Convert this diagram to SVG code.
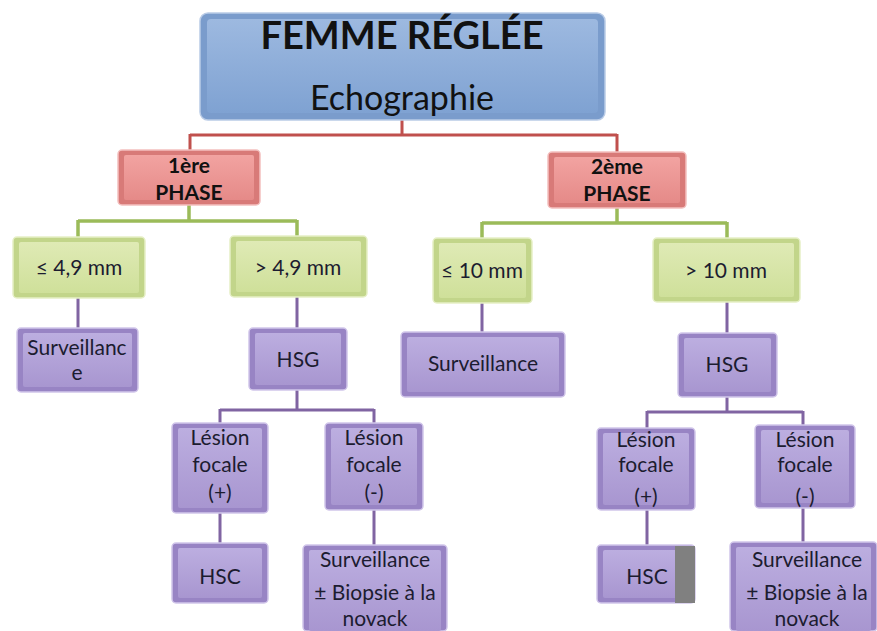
<svg xmlns="http://www.w3.org/2000/svg" width="877" height="631" viewBox="0 0 877 631">
<defs>
<linearGradient id="gBlue" x1="0" y1="0" x2="0" y2="1"><stop offset="0" stop-color="#9db9e0"/><stop offset="1" stop-color="#7fa2d2"/></linearGradient>
<linearGradient id="gRed" x1="0" y1="0" x2="0" y2="1"><stop offset="0" stop-color="#f2a3a1"/><stop offset="1" stop-color="#e58a88"/></linearGradient>
<linearGradient id="gGreen" x1="0" y1="0" x2="0" y2="1"><stop offset="0" stop-color="#dfeab5"/><stop offset="1" stop-color="#cfe09a"/></linearGradient>
<linearGradient id="gPurple" x1="0" y1="0" x2="0" y2="1"><stop offset="0" stop-color="#bcaee0"/><stop offset="1" stop-color="#a896d0"/></linearGradient>
</defs>
<style>
text{font-family:Lato,"Liberation Sans",sans-serif;text-anchor:middle;fill:#1c1c30}
.blue{fill:#7a9ccc;stroke:#b9cbe6;stroke-width:1.5}
.blueIn{fill:url(#gBlue)}
.red{fill:#d87a78;stroke:#f3c0bf;stroke-width:1.5}
.redIn{fill:url(#gRed)}
.green{fill:#c2d58a;stroke:#e6efc6;stroke-width:1.5}
.greenIn{fill:url(#gGreen)}
.purple{fill:#9884c4;stroke:#d1c6ea;stroke-width:1.5}
.purpleIn{fill:url(#gPurple)}
.cr{stroke:#c0504d;stroke-width:3;fill:none}
.cg{stroke:#9bbb59;stroke-width:3.5;fill:none}
.cp{stroke:#8064a2;stroke-width:3;fill:none}
.t1{font-size:38px;font-weight:bold;fill:#111}
.t2{font-size:34px;fill:#111}
.ph{font-size:21px;font-weight:bold;fill:#111}
.gt{font-size:21px}
.pt{font-size:21px}
</style>
<g id="connectors">
<path class="cr" d="M402,120 V135 M190,135 H617 M190,134 V150 M617,134 V152"/>
<path class="cg" d="M189,205 V221 M78,221 H297 M78,220 V237 M297,220 V236 M617,208 V223 M482,223 H727 M482,222 V238 M727,222 V238"/>
<path class="cp" d="M78,298 V328 M297,297 V328 M482,303 V332 M727,302 V333"/>
<path class="cp" d="M297,390 V410 M220,410 H374 M220,409 V423 M374,409 V423 M727,397 V412 M647,412 H803 M647,411 V428 M803,411 V425"/>
<path class="cp" d="M220,513 V543 M374,510 V545 M647,510 V545 M803,508 V542"/>
</g>
<g id="root">
<rect class="blue" x="200" y="13" width="405" height="107" rx="8"/>
<rect class="blueIn" x="207" y="19" width="391" height="94" rx="4"/>
<text class="t1" x="402" y="49">FEMME RÉGLÉE</text>
<text class="t2" x="402" y="110">Echographie</text>
</g>
<g id="phase1">
<rect class="red" x="118" y="150" width="142" height="55" rx="4"/>
<rect class="redIn" x="124" y="155" width="130" height="45" rx="2"/>
<text class="ph" x="189" y="173">1ère</text>
<text class="ph" x="189" y="200">PHASE</text>
</g>
<g id="phase2">
<rect class="red" x="548" y="152" width="138" height="56" rx="4"/>
<rect class="redIn" x="554" y="157" width="126" height="46" rx="2"/>
<text class="ph" x="617" y="174">2ème</text>
<text class="ph" x="617" y="201">PHASE</text>
</g>
<g id="le49">
<rect class="green" x="13" y="237" width="132" height="61" rx="4"/>
<rect class="greenIn" x="19" y="242" width="120" height="51" rx="2"/>
<text class="gt" x="79" y="275">≤ 4,9 mm</text>
</g>
<g id="gt49">
<rect class="green" x="230" y="236" width="137" height="61" rx="4"/>
<rect class="greenIn" x="236" y="241" width="125" height="51" rx="2"/>
<text class="gt" x="298" y="275">&gt; 4,9 mm</text>
</g>
<g id="le10">
<rect class="green" x="433" y="238" width="99" height="65" rx="4"/>
<rect class="greenIn" x="439" y="243" width="87" height="55" rx="2"/>
<text class="gt" x="482" y="278">≤ 10 mm</text>
</g>
<g id="gt10">
<rect class="green" x="653" y="238" width="147" height="64" rx="4"/>
<rect class="greenIn" x="659" y="243" width="135" height="54" rx="2"/>
<text class="gt" x="726" y="278">&gt; 10 mm</text>
</g>
<g id="surv1">
<rect class="purple" x="17" y="328" width="121" height="64" rx="4"/>
<rect class="purpleIn" x="23" y="333" width="109" height="54" rx="2"/>
<text class="pt" x="77" y="355">Surveillanc</text>
<text class="pt" x="77" y="380">e</text>
</g>
<g id="hsg1">
<rect class="purple" x="249" y="328" width="98" height="62" rx="4"/>
<rect class="purpleIn" x="255" y="333" width="86" height="52" rx="2"/>
<text class="pt" x="298" y="367">HSG</text>
</g>
<g id="surv2">
<rect class="purple" x="401" y="332" width="164" height="65" rx="4"/>
<rect class="purpleIn" x="407" y="337" width="152" height="55" rx="2"/>
<text class="pt" x="483" y="371">Surveillance</text>
</g>
<g id="hsg2">
<rect class="purple" x="678" y="333" width="99" height="64" rx="4"/>
<rect class="purpleIn" x="684" y="338" width="87" height="54" rx="2"/>
<text class="pt" x="727" y="372">HSG</text>
</g>
<g id="lesPos1">
<rect class="purple" x="172" y="423" width="96" height="90" rx="4"/>
<rect class="purpleIn" x="178" y="428" width="84" height="80" rx="2"/>
<text class="pt" x="220" y="445">Lésion</text>
<text class="pt" x="220" y="472">focale</text>
<text class="pt" x="220" y="500">(+)</text>
</g>
<g id="lesNeg1">
<rect class="purple" x="325" y="423" width="98" height="87" rx="4"/>
<rect class="purpleIn" x="331" y="428" width="86" height="77" rx="2"/>
<text class="pt" x="374" y="445">Lésion</text>
<text class="pt" x="374" y="472">focale</text>
<text class="pt" x="374" y="500">(-)</text>
</g>
<g id="hsc1">
<rect class="purple" x="172" y="543" width="96" height="60" rx="4"/>
<rect class="purpleIn" x="178" y="548" width="84" height="50" rx="2"/>
<text class="pt" x="220" y="584">HSC</text>
</g>
<g id="survB1">
<rect class="purple" x="303" y="545" width="144" height="86" rx="4"/>
<rect class="purpleIn" x="309" y="550" width="132" height="81" rx="2"/>
<text class="pt" x="375" y="567">Surveillance</text>
<text class="pt" x="375" y="600">± Biopsie à la</text>
<text class="pt" x="375" y="626">novack</text>
</g>
<g id="lesPos2">
<rect class="purple" x="597" y="428" width="98" height="82" rx="4"/>
<rect class="purpleIn" x="603" y="433" width="86" height="72" rx="2"/>
<text class="pt" x="646" y="447">Lésion</text>
<text class="pt" x="646" y="472">focale</text>
<text class="pt" x="646" y="504">(+)</text>
</g>
<g id="lesNeg2">
<rect class="purple" x="755" y="425" width="100" height="83" rx="4"/>
<rect class="purpleIn" x="761" y="430" width="88" height="73" rx="2"/>
<text class="pt" x="805" y="447">Lésion</text>
<text class="pt" x="805" y="472">focale</text>
<text class="pt" x="805" y="504">(-)</text>
</g>
<g id="hsc2">
<rect class="purple" x="597" y="545" width="98" height="58" rx="4"/>
<rect class="purpleIn" x="603" y="550" width="86" height="48" rx="2"/>
<rect x="675" y="546" width="20" height="57" fill="#808080"/>
<text class="pt" x="647" y="584">HSC</text>
</g>
<g id="survB2">
<rect class="purple" x="730" y="542" width="147" height="89" rx="4"/>
<rect class="purpleIn" x="736" y="547" width="135" height="84" rx="2"/>
<text class="pt" x="807" y="567">Surveillance</text>
<text class="pt" x="807" y="600">± Biopsie à la</text>
<text class="pt" x="807" y="626">novack</text>
</g>
</svg>
